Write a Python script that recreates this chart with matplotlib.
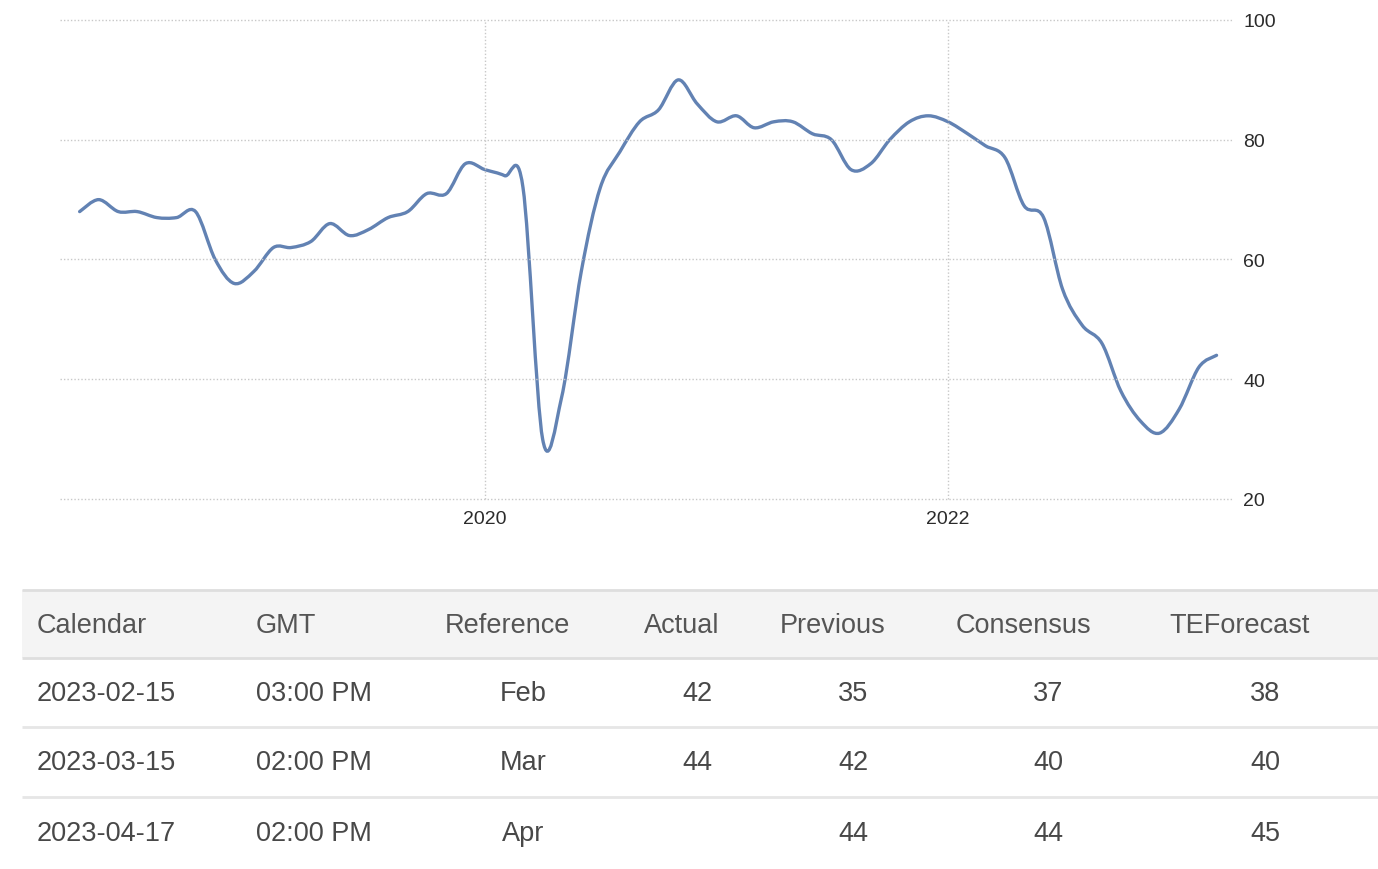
"""
NAHB housing market index -- line chart plus the calendar table below it.
"""

from datetime import date

import numpy as np
import matplotlib
matplotlib.use("Agg")
import matplotlib.pyplot as plt
import matplotlib.dates as mdates
from matplotlib.path import Path
from matplotlib.patches import PathPatch, Rectangle

plt.rcParams["font.family"] = ["Liberation Sans", "DejaVu Sans"]

# ── Data ──────────────────────────────────────────────────────────────────────

START_YEAR, START_MONTH = 2018, 4      # first point: Apr 2018, monthly

index_values = [
    68, 70, 68, 68, 67, 67, 68, 60, 56,                 # 2018 Apr-Dec
    58, 62, 62, 63, 66, 64, 65, 67, 68, 71, 71, 76,     # 2019
    75, 74, 72, 30, 37, 58, 72, 78, 83, 85, 90, 86,     # 2020
    83, 84, 82, 83, 83, 81, 80, 75, 76, 80, 83, 84,     # 2021
    83, 81, 79, 77, 69, 67, 55, 49, 46, 38, 33, 31,     # 2022
    35, 42, 44,                                         # 2023 Jan-Mar
]

y_ticks = [20, 40, 60, 80, 100]
x_tick_years = [2020, 2022]

table_columns = ["Calendar", "GMT", "Reference", "Actual", "Previous",
                 "Consensus", "TEForecast"]
cal_dates   = ["2023-02-15", "2023-03-15", "2023-04-17"]
cal_times   = ["03:00 PM", "02:00 PM", "02:00 PM"]
cal_refs    = ["Feb", "Mar", "Apr"]
cal_actual  = ["42", "44", ""]
cal_prev    = ["35", "42", "44"]
cal_cons    = ["37", "40", "44"]
cal_fcst    = ["38", "40", "45"]

# ── Style ─────────────────────────────────────────────────────────────────────

W, H = 1378, 870
LINE_COLOR = "#6282b3"
GRID_COLOR = "#c8c8c8"
TEXT_COLOR = "#2b2b2b"
TABLE_TEXT = "#484848"


def month_dates(y0, m0, n):
    out = []
    for i in range(n):
        k = m0 - 1 + i
        out.append(date(y0 + k // 12, k % 12 + 1, 1))
    return out


def catmull_rom_path(x, y):
    # smooth curve through every point (cubic Bezier segments)
    px = np.concatenate([[x[0]], x, [x[-1]]])
    py = np.concatenate([[y[0]], y, [y[-1]]])
    verts = [(x[0], y[0])]
    codes = [Path.MOVETO]
    for i in range(1, len(px) - 2):
        c1 = (px[i] + (px[i + 1] - px[i - 1]) / 6, py[i] + (py[i + 1] - py[i - 1]) / 6)
        c2 = (px[i + 1] - (px[i + 2] - px[i]) / 6, py[i + 1] - (py[i + 2] - py[i]) / 6)
        verts += [c1, c2, (px[i + 1], py[i + 1])]
        codes += [Path.CURVE4] * 3
    return Path(verts, codes)


def main() -> None:
    fig = plt.figure(figsize=(W / 100, H / 100), dpi=100)
    fig.patch.set_facecolor("white")

    # ── line chart ──
    ax = fig.add_axes([60 / W, 1 - 500 / H, (1232 - 60) / W, 479 / H])
    dts = month_dates(START_YEAR, START_MONTH, len(index_values))
    xs = mdates.date2num(dts)
    ys = np.array(index_values, dtype=float)

    path = catmull_rom_path(xs, ys)
    ax.add_patch(PathPatch(path, facecolor="none", edgecolor=LINE_COLOR,
                           lw=2.4, capstyle="round", joinstyle="round"))

    x2020 = mdates.date2num(date(2020, 1, 1))
    x2022 = mdates.date2num(date(2022, 1, 1))
    per_px = (x2022 - x2020) / (948 - 485)
    ax.set_xlim(x2020 - (485 - 60) * per_px, x2022 + (1232 - 948) * per_px)
    ax.set_ylim(20, 100)

    ax.set_yticks(y_ticks)
    ax.yaxis.tick_right()
    ax.set_xticks([mdates.date2num(date(yr, 1, 1)) for yr in x_tick_years])
    ax.set_xticklabels([str(yr) for yr in x_tick_years])
    ax.tick_params(axis="y", length=0, pad=8, labelsize=14, labelcolor=TEXT_COLOR)
    ax.tick_params(axis="x", length=0, pad=8, labelsize=14, labelcolor=TEXT_COLOR)
    ax.grid(True, color=GRID_COLOR, lw=1.0, linestyle=(0, (1, 1.5)))
    for gl in ax.get_xgridlines() + ax.get_ygridlines():
        gl.set_clip_on(False)
    for s in ax.spines.values():
        s.set_visible(False)

    # ── calendar table ──
    tax = fig.add_axes([0, 0, 1, 1])
    tax.set_xlim(0, W)
    tax.set_ylim(H, 0)
    tax.axis("off")

    tax.add_patch(Rectangle((22, 591), W - 22, 68, facecolor="#f4f4f4",
                            edgecolor="none"))
    for yy, col in [(591, "#dedede"), (659, "#dedede"), (728, "#e6e6e6"),
                    (798, "#e6e6e6")]:
        tax.plot([22, W], [yy, yy], color=col, lw=2, solid_capstyle="butt")

    head_x = [37, 256, 507, 682, 833, 1023, 1240]
    head_ha = ["left", "left", "center", "center", "center", "center", "center"]
    for name, hx, ha in zip(table_columns, head_x, head_ha):
        tax.text(hx, 626, name, ha=ha, va="center", fontsize=19.5,
                 color="#555555")

    cell_x = [37, 256, 523, 697, 853, 1048, 1265]
    row_y = [694, 763, 834]
    columns = [cal_dates, cal_times, cal_refs, cal_actual, cal_prev,
               cal_cons, cal_fcst]
    for ci, (vals, cx) in enumerate(zip(columns, cell_x)):
        ha = "left" if ci < 2 else "center"
        for ry, v in zip(row_y, vals):
            tax.text(cx, ry, v, ha=ha, va="center", fontsize=19.5,
                     color=TABLE_TEXT)

    fig.savefig("out.png", dpi=100)
    plt.close(fig)


if __name__ == "__main__":
    main()
